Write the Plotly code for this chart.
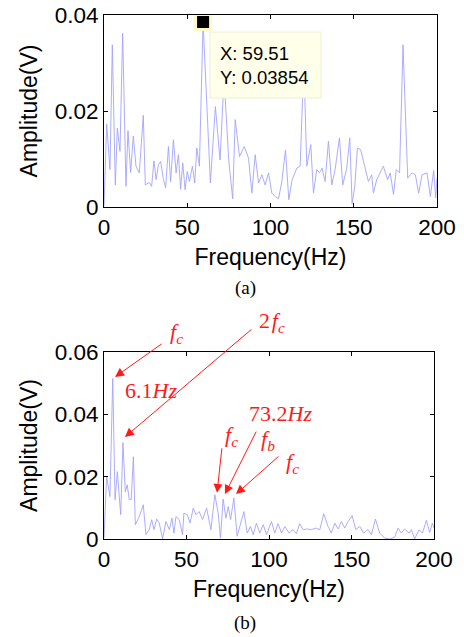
import plotly.graph_objects as go

# ---------------- data ----------------
freq_a = [0, 1.6, 3.6, 5.0, 6.8, 8.0, 9.6, 11.2, 13.2, 14.4, 16.0, 17.6, 19.2, 21.2, 23.6, 24.8,
          27.2, 28.6, 30.0, 31.3, 32.7, 34.0, 35.7, 37.0, 38.7, 40.0, 41.7, 43.3, 44.7, 46.0,
          47.3, 48.7, 50.0, 51.3, 53.1, 54.5, 55.7, 57.3, 59.51, 61.5, 63.9, 66.9, 69.7, 72.1,
          74.9, 77.3, 78.8, 81.4, 84.2, 86.8, 88.8, 90.8, 92.8, 94.8, 96.8, 98.8, 100.8, 102.8,
          104.8, 106.8, 109.0, 111.0, 113.0, 115.8, 117.8, 120.0, 121.8, 124.2, 125.8, 127.8,
          129.4, 131.0, 132.8, 134.8, 136.8, 138.8, 141.4, 143.4, 145.8, 147.6, 149.0, 150.6,
          152.2, 154.2, 156.8, 158.8, 160.8, 161.8, 163.8, 165.8, 167.8, 170.3, 171.9, 173.9,
          175.5, 177.5, 179.6, 182.4, 185.0, 187.0, 189.0, 191.0, 194.0, 196.0, 198.0, 199.2, 200.0]
amp_a = [0.0002, 0.0173, 0.0078, 0.0338, 0.0046, 0.0164, 0.0116, 0.0362, 0.0043, 0.0159, 0.0072,
         0.0148, 0.0085, 0.0071, 0.0191, 0.0046, 0.0051, 0.0043, 0.0096, 0.0057, 0.0088, 0.0095,
         0.0057, 0.0040, 0.0126, 0.0053, 0.0140, 0.0071, 0.0109, 0.0037, 0.0092, 0.0036, 0.0074,
         0.0053, 0.0085, 0.0050, 0.0123, 0.0085, 0.03854, 0.0220, 0.0050, 0.0209, 0.0098, 0.0270,
         0.0098, 0.0017, 0.0182, 0.0105, 0.0126, 0.0102, 0.0029, 0.0109, 0.0050, 0.0067, 0.0046,
         0.0071, 0.0029, 0.0022, 0.0017, 0.0053, 0.0119, 0.0015, 0.0057, 0.0081, 0.0085, 0.0300,
         0.0085, 0.0130, 0.0029, 0.0078, 0.0071, 0.0081, 0.0053, 0.0137, 0.0046, 0.0078, 0.0144,
         0.0046, 0.0081, 0.0144, 0.0007, 0.0043, 0.0123, 0.0119, 0.0078, 0.0053, 0.0067, 0.0029,
         0.0057, 0.0071, 0.0085, 0.0057, 0.0071, 0.0026, 0.0078, 0.0071, 0.0338, 0.0060, 0.0071,
         0.0067, 0.0029, 0.0067, 0.0071, 0.0022, 0.0076, 0.0019, 0.0060]

freq_b = [0, 1.6, 3.6, 5.3, 6.7, 8.1, 10.1, 11.5, 12.9, 14.1, 15.3, 16.5, 17.8, 19.0, 21.4, 23.8,
          25.4, 27.4, 28.9, 30.3, 31.9, 33.5, 35.5, 37.5, 39.6, 41.2, 42.4, 43.6, 45.6, 47.6,
          48.4, 50.5, 52.1, 54.1, 55.7, 57.7, 59.7, 62.2, 64.8, 67.2, 69.2, 70.6, 72.2, 73.9,
          75.3, 76.7, 78.7, 80.7, 82.3, 84.8, 86.8, 88.8, 90.4, 92.4, 94.4, 96.5, 98.5, 101.5,
          103.5, 105.5, 107.6, 109.6, 112.2, 114.6, 116.6, 118.6, 120.7, 123.1, 125.7, 128.4,
          130.8, 133.2, 135.8, 137.8, 139.9, 141.9, 143.9, 145.9, 147.9, 150.4, 152.6, 155.0,
          157.4, 160.0, 162.1, 164.5, 167.1, 170.1, 173.2, 176.2, 178.2, 180.2, 182.2, 184.9,
          186.3, 188.3, 190.9, 193.0, 195.4, 197.4, 199.0, 200.0]
amp_b = [0.0003, 0.0202, 0.0136, 0.0515, 0.0126, 0.0216, 0.0078, 0.0309, 0.0152, 0.0174, 0.0126,
         0.0126, 0.0264, 0.0046, 0.0072, 0.0110, 0.0014, 0.0030, 0.0062, 0.0030, 0.0064, 0.0051,
         0.0000, 0.0056, 0.0030, 0.0067, 0.0019, 0.0072, 0.0062, 0.0014, 0.0083, 0.0078, 0.0051,
         0.0099, 0.0078, 0.0088, 0.0062, 0.0099, 0.0030, 0.0142, 0.0083, 0.0003, 0.0128, 0.0067,
         0.0104, 0.0062, 0.0131, 0.0009, 0.0040, 0.0088, 0.0019, 0.0040, 0.0014, 0.0051, 0.0019,
         0.0046, 0.0014, 0.0056, 0.0019, 0.0049, 0.0019, 0.0040, 0.0019, 0.0030, 0.0017, 0.0049,
         0.0030, 0.0032, 0.0030, 0.0035, 0.0030, 0.0081, 0.0040, 0.0019, 0.0051, 0.0032, 0.0056,
         0.0035, 0.0056, 0.0075, 0.0030, 0.0040, 0.0019, 0.0030, 0.0014, 0.0064, 0.0019, 0.0003,
         0.0000, 0.0006, 0.0035, 0.0019, 0.0032, 0.0019, 0.0030, 0.0000, 0.0030, 0.0019, 0.0060,
         0.0021, 0.0051, 0.0035]

tip_x = [59.51]
tip_y = [0.03854]

x_ticks = [0, 50, 100, 150, 200]
x_ticklabels = ["0", "50", "100", "150", "200"]
ya_ticks = [0, 0.02, 0.04]
ya_ticklabels = ["0", "0.02", "0.04"]
yb_ticks = [0, 0.02, 0.04, 0.06]
yb_ticklabels = ["0", "0.02", "0.04", "0.06"]

# ---------------- layout helpers ----------------
W, H = 464, 637


def px(x):
    return x / W


def py(y):
    return 1 - y / H


LINE = "#a3a3ff"
RED = "#ff1a1a"
SANS = "Liberation Sans"
SERIF = "Liberation Serif"

fig = go.Figure()
fig.add_trace(go.Scatter(x=freq_a, y=amp_a, mode="lines", line=dict(color=LINE, width=0.9),
                         xaxis="x", yaxis="y", showlegend=False, hoverinfo="skip"))
fig.add_trace(go.Scatter(x=tip_x, y=tip_y, mode="markers",
                         marker=dict(symbol="square", size=15, color="black",
                                     line=dict(color="#fff8c8", width=3)),
                         xaxis="x", yaxis="y", showlegend=False, hoverinfo="skip"))
fig.add_trace(go.Scatter(x=freq_b, y=amp_b, mode="lines", line=dict(color=LINE, width=0.9),
                         xaxis="x2", yaxis="y2", showlegend=False, hoverinfo="skip"))

axis_common = dict(showline=True, linecolor="black", linewidth=1, mirror="ticks",
                   ticks="inside", ticklen=4, tickcolor="black", tickwidth=1,
                   showgrid=False, zeroline=False, automargin=False,
                   tickfont=dict(family=SANS, size=22.5, color="black"))
title_font = dict(family=SANS, size=23, color="black")

fig.update_layout(
    template="none",
    width=W, height=H,
    margin=dict(l=0, r=0, t=0, b=0),
    paper_bgcolor="white", plot_bgcolor="white",
    xaxis=dict(axis_common, domain=[px(104), px(437)], range=[0, 200], anchor="y",
               tickvals=x_ticks, ticktext=x_ticklabels,
               title=dict(text="Frequency(Hz)", font=title_font, standoff=9)),
    yaxis=dict(axis_common, domain=[py(207), py(15)], range=[0, 0.04], anchor="x",
               tickvals=ya_ticks, ticktext=ya_ticklabels,
               title=dict(text="Amplitude(V)", font=title_font, standoff=10)),
    xaxis2=dict(axis_common, domain=[px(104), px(434)], range=[0, 200], anchor="y2",
                tickvals=x_ticks, ticktext=x_ticklabels,
                title=dict(text="Frequency(Hz)", font=title_font, standoff=9)),
    yaxis2=dict(axis_common, domain=[py(539), py(352)], range=[0, 0.06], anchor="x2",
                tickvals=yb_ticks, ticktext=yb_ticklabels,
                title=dict(text="Amplitude(V)", font=title_font, standoff=10)),
)

# data tip box (top panel)
fig.add_shape(type="rect", xref="paper", yref="paper",
              x0=px(210), x1=px(321), y0=py(98), y1=py(32),
              fillcolor="#ffffea", line=dict(color="#eeeed6", width=1), layer="above")
fig.add_annotation(xref="paper", yref="paper", x=px(218), y=py(65), xanchor="left",
                   yanchor="middle", align="left", showarrow=False,
                   text="X: 59.51<br>Y: 0.03854",
                   font=dict(family=SANS, size=18.5, color="black"))

# captions
fig.add_annotation(xref="paper", yref="paper", x=px(245), y=py(275), showarrow=False,
                   xanchor="center", yanchor="top",
                   text="(a)", font=dict(family=SERIF, size=19, color="black"))
fig.add_annotation(xref="paper", yref="paper", x=px(245), y=py(610), showarrow=False,
                   xanchor="center", yanchor="top",
                   text="(b)", font=dict(family=SERIF, size=19, color="black"))

# red arrows (bottom panel), heads at data coordinates
arrow_heads = [(6.7, 0.052, 48, -34), (12.7, 0.0327, 128, -109),
               (68.5, 0.0148, 5, -46), (73.3, 0.0144, 32, -64), (80.0, 0.0144, 44, -39)]
for hx, hy, ax, ay in arrow_heads:
    fig.add_annotation(xref="x2", yref="y2", x=hx, y=hy, ax=ax, ay=ay, text="",
                       showarrow=True, arrowhead=2, arrowsize=1.8, arrowwidth=1,
                       arrowcolor=RED, standoff=0, startstandoff=0)

red_font = dict(family=SERIF, size=22, color=RED)
labels = [
    (176, 333, "<i>f</i><sub><i>c</i></sub>"),
    (272, 322, "2&#8202;<i>f</i><sub><i>c</i></sub>"),
    (151, 390, "6.1<i>Hz</i>"),
    (280, 413, "73.2<i>Hz</i>"),
    (231, 436, "<i>f</i><sub><i>c</i></sub>"),
    (268, 440, "<i>f</i><sub><i>b</i></sub>"),
    (292, 463, "<i>f</i><sub><i>c</i></sub>"),
]
for lx, ly, t in labels:
    fig.add_annotation(xref="paper", yref="paper", x=px(lx), y=py(ly), showarrow=False,
                       text=t, font=red_font, xanchor="center", yanchor="middle",
                       borderpad=0)

fig.write_html("out.html", config={"displayModeBar": False},
               post_script="document.body.style.margin='0px';")
